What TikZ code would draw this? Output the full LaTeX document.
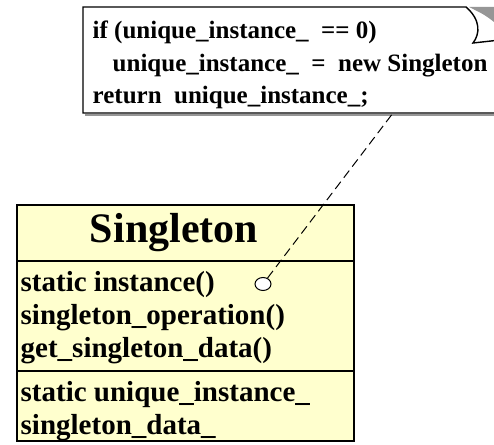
\documentclass[tikz,border=0pt]{standalone}
\usepackage{fontspec}
\setmainfont{Liberation Serif}
\usetikzlibrary{positioning,calc,shapes.geometric}
\definecolor{classfill}{RGB}{255,255,206}
\definecolor{foldgray}{RGB}{150,150,150}
\tikzset{
  every picture/.append style={line width=1.4pt},
  codeline/.style={anchor=base west, inner sep=0pt, font=\fontsize{25}{30}\selectfont\bfseries},
  member/.style={anchor=base west, inner sep=0pt, font=\fontsize{29}{32}\selectfont\bfseries},
  classname/.style={inner sep=0pt, font=\fontsize{42}{46}\selectfont\bfseries},
  link/.style={dash pattern=on 9pt off 5pt, line width=1pt},
  port/.style={ellipse, draw, fill=white, minimum width=16pt, minimum height=13pt, inner sep=0pt, line width=1pt}
}

\begin{document}
\begin{tikzpicture}[x=1pt,y=-1pt]
\useasboundingbox (0,0) rectangle (494,444);
\clip (0,0) rectangle (494,444);

% note with curled corner
\draw[foldgray, line width=2pt] (85,115) -- (500,115);
\draw[fill=white] (83,7) -- (466,7) .. controls (481,20) and (480,34) .. (473,43)
  -- (500,40) -- (500,113) -- (83,113) -- cycle;
\fill[foldgray] (469,7) -- (494,7) -- (494,22) .. controls (485,15) .. cycle;
\node[codeline] (cond) at (92,38) {if (unique\_instance\_\ \ == 0)};
\node[codeline] (assign) at (112,71) {unique\_instance\_\ \ =\ \ new Singleton};
\node[codeline] (ret) at (92,103) {return\ \ unique\_instance\_;};
\coordinate (attach) at (393,113);

% class box
\draw[fill=classfill] (17,205) rectangle (354,441);
\draw (17,261) -- (354,261);
\draw (17,371) -- (354,371);
\node[classname] (name) at (174,233) {Singleton};
\node[member] (inst) at (20,291) {static instance()};
\node[member] (oper) at (20,324) {singleton\_operation()};
\node[member] (getdata) at (20,357) {get\_singleton\_data()};
\node[member] (uniq) at (20,401) {static unique\_instance\_};
\node[member] (data) at (20,434) {singleton\_data\_};

% attachment
\node[port] (port) at (263,284) {};
\draw[link] (port) -- (attach);

\end{tikzpicture}
\end{document}
